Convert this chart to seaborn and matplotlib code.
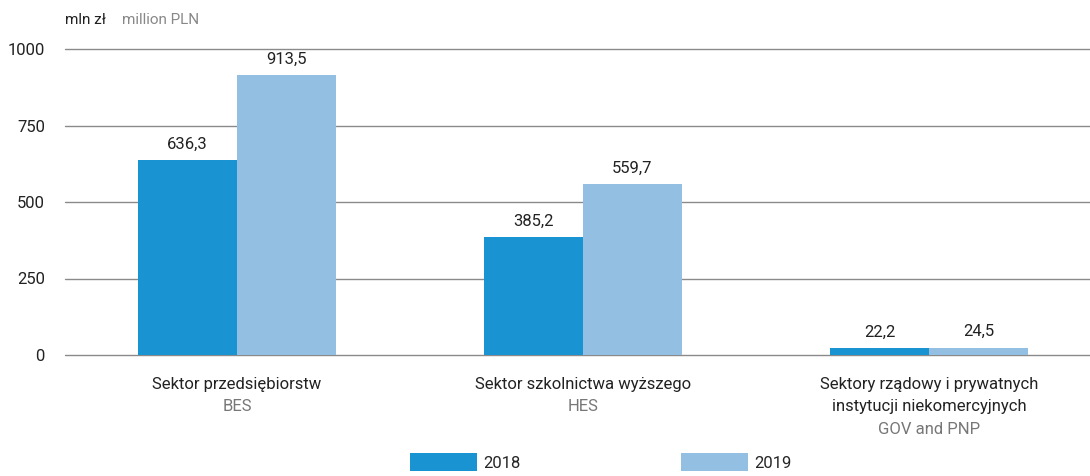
import pandas as pd
import matplotlib.pyplot as plt
import matplotlib.transforms as mtransforms
from matplotlib.patches import Patch
import seaborn as sns

# =========================
# DATA
# =========================

sectors = ["Sektor przedsiębiorstw", "Sektor szkolnictwa wyższego",
           "Sektory rządowy i prywatnych\ninstytucji niekomercyjnych"]
sectors_en = ["BES", "HES", "GOV and PNP"]
years = ["2018", "2019"]
values_2018 = [636.3, 385.2, 22.2]
values_2019 = [913.5, 559.7, 24.5]
colors = ["#1a93d3", "#93bfe3"]

df = pd.DataFrame({
    "sector": sectors * 2,
    "year": [years[0]] * 3 + [years[1]] * 3,
    "value": values_2018 + values_2019,
})

# =========================
# STYLE
# =========================

sns.set_style("white")
plt.rcParams["font.family"] = ["Roboto", "DejaVu Sans"]

fig = plt.figure(figsize=(10.9, 4.76), dpi=100)
ax = fig.add_axes([65 / 1090, 1 - 355 / 476, 1 - 65 / 1090, (355 - 49) / 476])

sns.barplot(data=df, x="sector", y="value", hue="year", palette=colors,
            width=0.572, gap=0, saturation=1, legend=False, ax=ax,
            edgecolor="none", linewidth=0)

ax.set_ylim(0, 1000)
ax.set_xlim(-0.497, 2.465)
ax.set_yticks([0, 250, 500, 750, 1000])
ax.yaxis.grid(True, color="#8a8a8a", linewidth=1)
for gl in ax.get_ygridlines():
    gl.set_clip_on(False)
ax.set_axisbelow(True)
for s in ax.spines.values():
    s.set_visible(False)
ax.tick_params(axis="y", length=0, pad=14.4, labelsize=12, labelcolor="#222222")
ax.set_xticks([])
ax.set_xlabel("")
ax.set_ylabel("")

# value labels
for cont in ax.containers:
    ax.bar_label(cont, labels=[f"{v:.1f}".replace(".", ",") for v in cont.datavalues],
                 padding=6, fontsize=12, color="#222222")

# category labels
trans = mtransforms.blended_transform_factory(ax.transData, ax.transAxes)
for i, (pl, en) in enumerate(zip(sectors, sectors_en)):
    n = pl.count("\n") + 1
    ax.annotate(pl, xy=(i, 0), xycoords=trans, xytext=(0, -16), textcoords="offset points",
                ha="center", va="top", fontsize=12, color="#222222", linespacing=1.6)
    ax.annotate(en, xy=(i, 0), xycoords=trans, xytext=(0, -16 - 16 * n), textcoords="offset points",
                ha="center", va="top", fontsize=12, color="#777777")

# unit label
fig.text(65 / 1090, 1 - 20 / 476, "mln zł", fontsize=11, color="#222222", va="center", ha="left")
fig.text(122 / 1090, 1 - 20 / 476, "million PLN", fontsize=11, color="#888888", va="center", ha="left")

# legend
handles = [Patch(facecolor=c, edgecolor="none") for c in colors]
fig.legend(handles, years, loc="upper center", bbox_to_anchor=(601 / 1090, 1 - 453 / 476),
           ncol=2, frameon=False, fontsize=12, handlelength=4.0, handleheight=1.3,
           handletextpad=0.4, columnspacing=9.6, borderpad=0, borderaxespad=0)

fig.savefig("out.png", dpi=100)
